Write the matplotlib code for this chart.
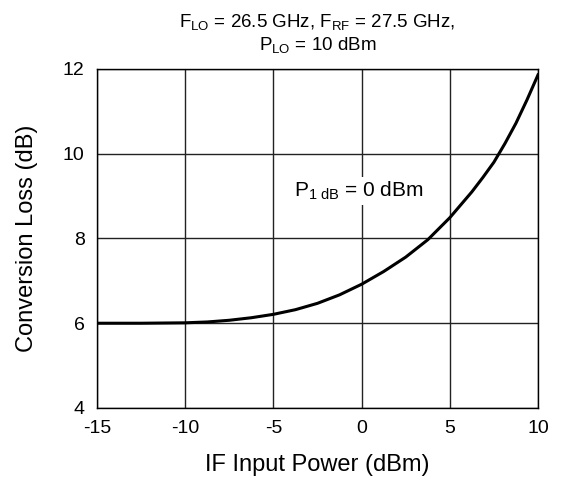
import numpy as np
import matplotlib.pyplot as plt

plt.rcParams['font.family'] = ['Liberation Sans', 'DejaVu Sans']
plt.rcParams['mathtext.fontset'] = 'custom'
plt.rcParams['mathtext.rm'] = 'Liberation Sans'
plt.rcParams['mathtext.it'] = 'Liberation Sans'
plt.rcParams['axes.unicode_minus'] = False

# IF input power (dBm) vs conversion loss (dB)
if_power = [-15, -12.5, -10, -8.75, -7.5, -6.25, -5, -3.75, -2.5, -1.25,
            0, 1.25, 2.5, 3.75, 5, 6.25, 6.875, 7.5, 8.125, 8.75, 9.375, 10]
conv_loss = [6.0, 6.0, 6.01, 6.03, 6.07, 6.13, 6.21, 6.32, 6.47, 6.67,
             6.92, 7.22, 7.56, 7.97, 8.49, 9.1, 9.44, 9.8, 10.24, 10.72, 11.27, 11.86]

x_ticks = [-15, -10, -5, 0, 5, 10]
y_ticks = [4, 6, 8, 10, 12]

fig = plt.figure(figsize=(5.65, 4.83), dpi=100)
ax = fig.add_axes([0.1717, 0.1553, 0.7805, 0.7019])

ax.plot(if_power, conv_loss, color='black', linewidth=2.2, zorder=3)

ax.set_xlim(-15, 10)
ax.set_ylim(4, 12)
ax.set_xticks(x_ticks)
ax.set_yticks(y_ticks)
ax.tick_params(length=0, labelsize=14, pad=9)
ax.grid(True, color='#222222', linewidth=1.0)
for s in ax.spines.values():
    s.set_linewidth(1.0)

ax.set_xlabel("IF Input Power (dBm)", fontsize=17, labelpad=12)
ax.set_ylabel("Conversion Loss (dB)", fontsize=17, labelpad=18)

ax.set_title(r"$\mathregular{F_{LO}}$ = 26.5 GHz, $\mathregular{F_{RF}}$ = 27.5 GHz," "\n"
             r"$\mathregular{P_{LO}}$ = 10 dBm",
             fontsize=13.5, linespacing=1.15, pad=14)

ax.text(-0.15, 9.12, r"$\mathregular{P_{1\ dB}}$ = 0 dBm", fontsize=15,
        ha='center', va='center',
        bbox=dict(facecolor='white', edgecolor='none', pad=2), zorder=4)

plt.savefig("out.png", dpi=100)
plt.close()
